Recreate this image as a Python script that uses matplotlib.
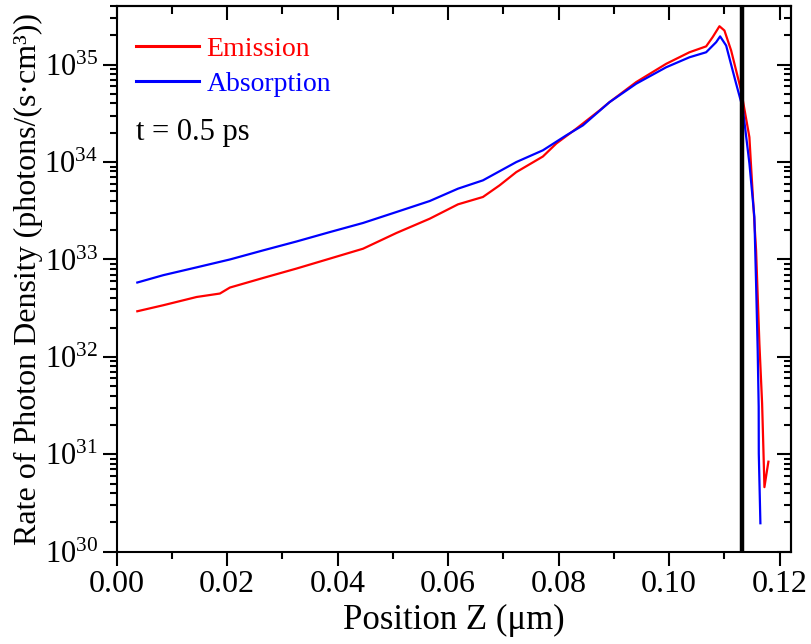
import matplotlib
matplotlib.use("Agg")
import matplotlib.pyplot as plt
from matplotlib.ticker import LogLocator, MultipleLocator, NullFormatter, LogFormatterSciNotation

plt.rcParams['font.family'] = ['Liberation Serif', 'DejaVu Serif']
plt.rcParams['mathtext.fontset'] = 'custom'
plt.rcParams['mathtext.rm'] = 'Liberation Serif'
plt.rcParams['mathtext.it'] = 'Liberation Serif:italic'

# Position along Z (um) and photon-density rates (photons/(s*cm^3))
z_abs = [0.00373, 0.00843, 0.01447, 0.02049, 0.02651, 0.03255, 0.03857, 0.04459,
         0.05063, 0.05665, 0.06177, 0.06629, 0.07233, 0.07714, 0.08137, 0.08438,
         0.08920, 0.09403, 0.09946, 0.10367, 0.10669, 0.10850, 0.10922, 0.11031,
         0.11212, 0.11331, 0.11452, 0.11542, 0.11573, 0.11602, 0.11620, 0.11622,
         0.11651]
absorption = [5.8e32, 6.9e32, 8.3e32, 1.0e33, 1.24e33, 1.53e33, 1.91e33, 2.37e33,
              3.07e33, 3.98e33, 5.33e33, 6.49e33, 1.0e34, 1.32e34, 1.88e34, 2.38e34,
              4.12e34, 6.37e34, 9.4e34, 1.19e35, 1.34e35, 1.70e35, 1.95e35, 1.57e35,
              6.37e34, 3.6e34, 9.7e33, 2.73e33, 5.66e32, 1.17e32, 3.07e31, 1.02e31,
              1.96e30]

z_emi = [0.00373, 0.00843, 0.01447, 0.01868, 0.02049, 0.02651, 0.03255, 0.03857,
         0.04459, 0.05063, 0.05665, 0.06177, 0.06629, 0.06931, 0.07233, 0.07714,
         0.07957, 0.08318, 0.08740, 0.08920, 0.09403, 0.09946, 0.10367, 0.10669,
         0.10788, 0.10910, 0.11000, 0.11121, 0.11302, 0.11452, 0.11483, 0.11573,
         0.11633, 0.11682, 0.11706, 0.11724, 0.11772, 0.11796]
emission = [2.94e32, 3.39e32, 4.12e32, 4.47e32, 5.15e32, 6.46e32, 8.07e32, 1.02e33,
            1.29e33, 1.87e33, 2.62e33, 3.68e33, 4.38e33, 5.77e33, 7.89e33, 1.14e34,
            1.55e34, 2.2e34, 3.39e34, 4.12e34, 6.62e34, 1.02e35, 1.34e35, 1.54e35,
            1.92e35, 2.48e35, 2.24e35, 1.40e35, 5.43e34, 1.80e34, 8.9e33, 1.24e33,
            1.37e32, 3.33e31, 1.10e31, 4.6e30, 6.9e30, 8.4e30]

boundary_z = 0.1132
time_label = "t = 0.5 ps"

fig = plt.figure(figsize=(8.11, 6.44), dpi=100)
ax = fig.add_axes([0.1439, 0.1433, 0.8311, 0.8474])

ax.plot(z_emi, emission, color='#ff0000', lw=1.6, label='Emission')
ax.plot(z_abs, absorption, color='#0000ff', lw=1.6, label='Absorption')
ax.axvline(boundary_z, color='black', lw=3.2)

ax.set_yscale('log')
ax.set_xlim(0.0, 0.122)
ax.set_ylim(1e30, 4e35)

ax.xaxis.set_major_locator(MultipleLocator(0.02))
ax.xaxis.set_minor_locator(MultipleLocator(0.01))
ax.xaxis.set_major_formatter(plt.FuncFormatter(lambda v, p: f"{v:.2f}"))
ax.yaxis.set_major_locator(LogLocator(base=10, numticks=20))
ax.yaxis.set_minor_locator(LogLocator(base=10, subs=range(2, 10), numticks=20))
ax.yaxis.set_minor_formatter(NullFormatter())
ax.yaxis.set_major_formatter(LogFormatterSciNotation())

ax.tick_params(which='major', direction='out', length=10, width=1.5, labelsize=23)
ax.tick_params(axis='y', which='major', labelsize=22)
ax.tick_params(which='minor', direction='out', length=5, width=1.5)
for s in ax.spines.values():
    s.set_linewidth(1.5)

# inward-pointing mirror ticks on top and right
top = ax.secondary_xaxis('top')
top.xaxis.set_major_locator(MultipleLocator(0.02))
top.xaxis.set_minor_locator(MultipleLocator(0.01))
top.tick_params(which='major', direction='in', length=10, width=1.5, labeltop=False)
top.tick_params(which='minor', direction='in', length=6, width=1.5)
top.spines['top'].set_linewidth(1.5)

right = ax.secondary_yaxis('right')
right.yaxis.set_major_locator(LogLocator(base=10, numticks=20))
right.yaxis.set_minor_locator(LogLocator(base=10, subs=range(2, 10), numticks=20))
right.tick_params(which='major', direction='in', length=10, width=1.5, labelright=False)
right.tick_params(which='minor', direction='in', length=5, width=1.5)
right.yaxis.set_minor_formatter(NullFormatter())
right.spines['right'].set_linewidth(1.5)

ax.set_xlabel("Position Z (\u03bcm)", fontsize=25, labelpad=3)
ax.set_ylabel("Rate of Photon Density (photons/(s\u00b7cm\u00b3))", fontsize=23, labelpad=1)

leg = ax.legend(loc='upper left', bbox_to_anchor=(0.028, 0.944), frameon=False,
                fontsize=20, handlelength=2.3, handletextpad=0.25, labelspacing=0.33,
                borderpad=0, borderaxespad=0, labelcolor='linecolor')
for h in leg.get_lines():
    h.set_linewidth(2.2)

ax.text(0.028, 0.7545, time_label, transform=ax.transAxes, fontsize=22,
        va='baseline', ha='left', color='black')

fig.savefig("out.png", dpi=100)
